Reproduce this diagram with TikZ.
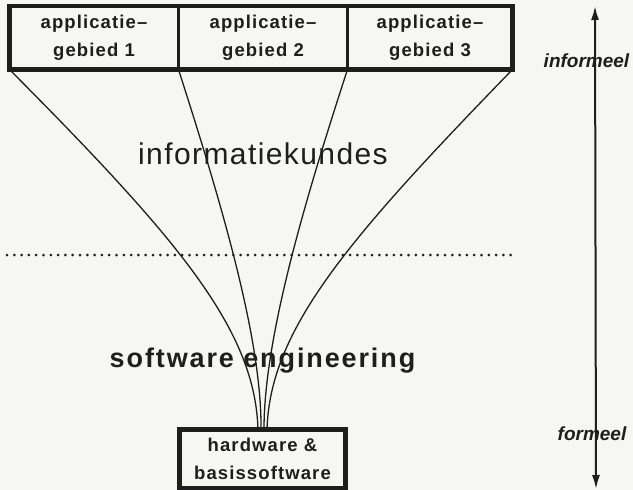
\documentclass[tikz,border=0pt]{standalone}
\usepackage{fontspec}
\setmainfont{Liberation Sans}
\newfontfamily\boxfont[LetterSpace=6]{Liberation Sans}
\newfontfamily\bigfont[LetterSpace=4.7]{Liberation Sans}
\newfontfamily\sefont[LetterSpace=7]{Liberation Sans}
\usetikzlibrary{arrows.meta}
\definecolor{ink}{RGB}{30,30,30}
\definecolor{paper}{RGB}{246,246,242}
\tikzset{
  appbox/.style={draw=ink, line width=3pt, inner sep=0pt, outer sep=0pt,
    align=center, text=ink, minimum height=63.5pt,
    font=\boxfont\bfseries\fontsize{18.5pt}{28pt}\selectfont},
  hwbox/.style={appbox, line width=4.5pt, minimum width=166pt, minimum height=58.5pt},
  frame/.style={draw=ink, line width=4.5pt},
  curve/.style={draw=ink, line width=1.3pt},
  dotline/.style={draw=ink, line width=3pt, line cap=round, dash pattern=on 0pt off 7.3pt},
  axis/.style={draw=ink, line width=2pt, {Latex[length=14pt,width=8pt]}-{Latex[length=14pt,width=8pt]}},
  bigtext/.style={text=ink, inner sep=0pt, anchor=base, font=\bigfont\fontsize{30pt}{36pt}\selectfont},
  setext/.style={text=ink, inner sep=0pt, anchor=base, font=\sefont\bfseries\fontsize{27pt}{32pt}\selectfont},
  sidetext/.style={text=ink, inner sep=0pt, anchor=base, font=\bfseries\itshape\fontsize{19pt}{22pt}\selectfont}
}
\begin{document}
\begin{tikzpicture}[x=1pt,y=-1pt]
\fill[paper] (0,0) rectangle (633,490);
\useasboundingbox (0,0) rectangle (633,490);
% top boxes
\node[appbox, minimum width=169pt] (app1) at (94,37.75) {applicatie–\\gebied 1};
\node[appbox, minimum width=169pt] (app2) at (263,37.75) {applicatie–\\gebied 2};
\node[appbox, minimum width=165pt] (app3) at (430,37.75) {applicatie–\\gebied 3};
\draw[frame] (app1.north west) rectangle (app3.south east);
% bottom box
\node[hwbox] (hw) at (262.5,458.75) {hardware \&\\basissoftware};
% fan of curves
\draw[curve] (app1.south west) .. controls (180,241) and (255,330) .. ([xshift=-4.5pt]hw.north);
\draw[curve] (app1.south east) .. controls (222,205) and (262,340) .. ([xshift=-1.5pt]hw.north);
\draw[curve] (app2.south east) .. controls (303,206) and (264,340) .. ([xshift=1.5pt]hw.north);
\draw[curve] (app3.south east) .. controls (346,241) and (270,330) .. ([xshift=4.5pt]hw.north);
% dotted separator
\coordinate (dotL) at (7,255);
\coordinate (dotR) at (513,255);
\draw[dotline] (dotL) -- (dotR);
% labels
\node[bigtext] (infk) at (263,164) {informatiekundes};
\node[setext] (se) at (262.5,367) {software engineering};
% axis
\coordinate (axTop) at (595,6);
\coordinate (axBot) at (596,489);
\draw[axis] (axBot) -- (axTop);
\node[sidetext] (inf) at (586.5,67) {informeel};
\node[sidetext] (form) at (592,440) {formeel};
\end{tikzpicture}
\end{document}
